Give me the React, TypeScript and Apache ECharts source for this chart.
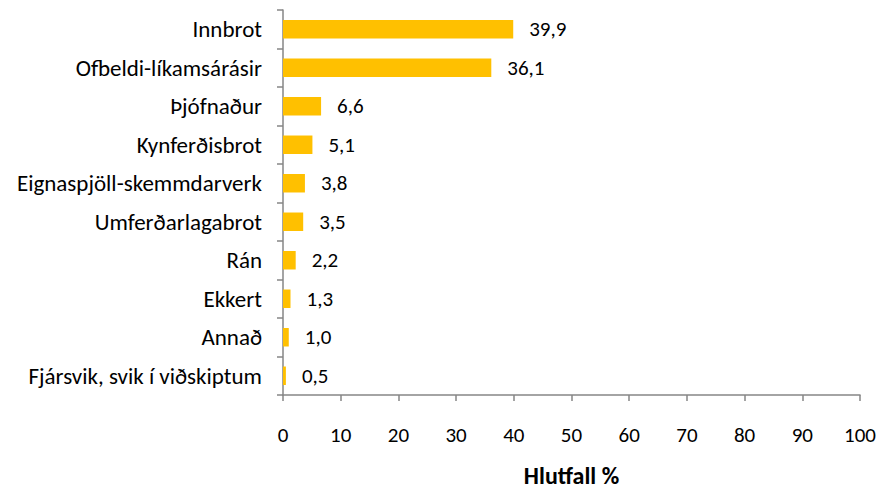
import React, { useEffect, useRef } from "react";
import * as echarts from "echarts";

const categories = [
  "Innbrot",
  "Ofbeldi-líkamsárásir",
  "Þjófnaður",
  "Kynferðisbrot",
  "Eignaspjöll-skemmdarverk",
  "Umferðarlagabrot",
  "Rán",
  "Ekkert",
  "Annað",
  "Fjársvik, svik í viðskiptum",
];
const values = [39.9, 36.1, 6.6, 5.1, 3.8, 3.5, 2.2, 1.3, 1.0, 0.5];
const axisName = "Hlutfall %";

const FONT = "Carlito, Lato, sans-serif";

export default function App() {
  const ref = useRef<HTMLDivElement>(null);
  useEffect(() => {
    if (!ref.current) return;
    const chart = echarts.init(ref.current, null, { renderer: "svg" });
    chart.setOption({
      animation: false,
      grid: { left: 283, right: 32, top: 10, bottom: 79, containLabel: false },
      xAxis: {
        type: "value",
        min: 0,
        max: 100,
        interval: 10,
        name: axisName,
        nameLocation: "middle",
        nameGap: 68,
        nameTextStyle: { fontFamily: FONT, fontSize: 24, fontWeight: "bold", color: "#000" },
        axisLine: { show: true, lineStyle: { color: "#868686", width: 1.5 } },
        axisTick: { show: true, length: 6, lineStyle: { color: "#868686", width: 1.5 } },
        axisLabel: { margin: 29, fontFamily: FONT, fontSize: 21, color: "#000" },
        splitLine: { show: false },
      },
      yAxis: {
        type: "category",
        data: categories,
        inverse: true,
        axisLine: { show: true, lineStyle: { color: "#868686", width: 1.5 } },
        axisTick: { show: true, length: 6, alignWithLabel: false, lineStyle: { color: "#868686", width: 1.5 } },
        axisLabel: { margin: 21, fontFamily: FONT, fontSize: 23, color: "#000" },
      },
      series: [
        {
          type: "bar",
          data: values,
          barWidth: "48%",
          itemStyle: { color: "#FFC000" },
          label: {
            show: true,
            position: "right",
            distance: 16,
            fontFamily: FONT,
            fontSize: 21,
            color: "#000",
            formatter: (p: any) => Number(p.value).toFixed(1).replace(".", ","),
          },
        },
      ],
    });
    return () => chart.dispose();
  }, []);
  return <div ref={ref} style={{ width: 892, height: 492, position: "absolute", left: 0, top: 0 }} />;
}
